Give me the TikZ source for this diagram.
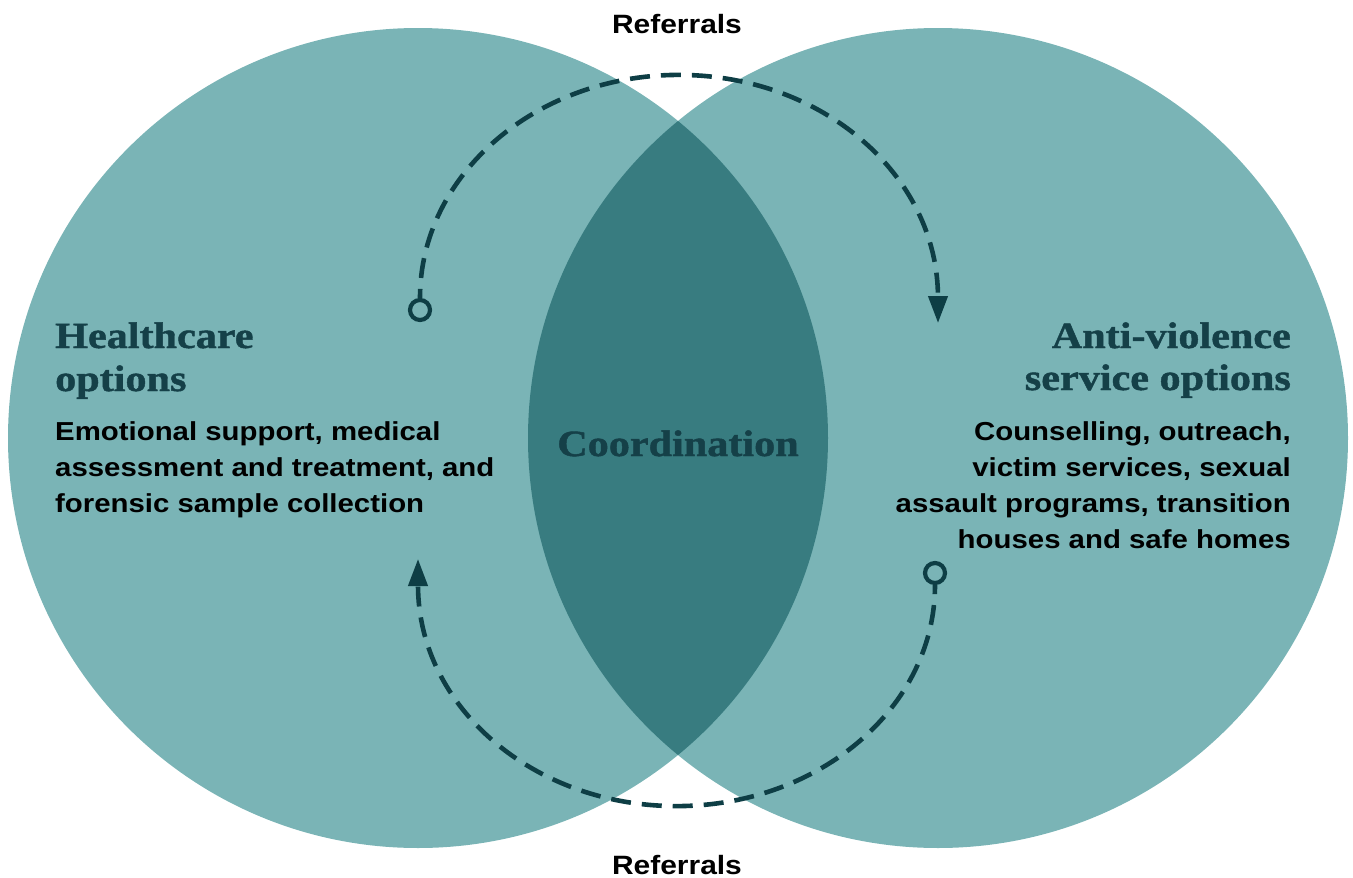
\documentclass[tikz,border=0pt]{standalone}
\usepackage{fontspec}
\setmainfont{Liberation Sans}
\newfontfamily\bodyf[FakeStretch=1.13]{Liberation Sans}
\newfontfamily\headf[FakeStretch=1.14,FakeBold=1.2]{Liberation Serif}
\usetikzlibrary{arrows.meta}
\definecolor{lightteal}{HTML}{7AB4B6}
\definecolor{darkteal}{HTML}{387C80}
\definecolor{ink}{HTML}{0E3E45}
\definecolor{headc}{HTML}{154048}
\tikzset{
  bodytxt/.style={inner sep=0pt, font=\bodyf\bfseries\fontsize{26}{36}\selectfont, text=black},
  headtxt/.style={inner sep=0pt, font=\headf\bfseries\fontsize{37}{44}\selectfont, text=headc},
  reftxt/.style={inner sep=0pt, font=\bodyf\bfseries\fontsize{26.5}{30}\selectfont, text=black},
  flow/.style={draw=ink, line width=4.6pt, dash pattern=on 20pt off 11pt, dash phase=11pt},
  tipline/.style={draw=ink, line width=4.2pt, -{Triangle[length=27pt,width=19pt]}},
  marker/.style={circle, draw=ink, line width=4.2pt, minimum size=20pt, inner sep=0pt, fill=lightteal}
}
\begin{document}
\begin{tikzpicture}[x=1pt,y=1pt]
\useasboundingbox (0,0) rectangle (1353,-878);
% circles
\fill[lightteal] (418,-438) circle (410);
\fill[lightteal] (938,-438) circle (410);
\begin{scope}
  \clip (418,-438) circle (410);
  \fill[darkteal] (938,-438) circle (410);
\end{scope}
% upper referral arc
\node[marker] (m1) at (420,-310) {};
\coordinate (u1) at (938,-300);
\coordinate (t1) at (938,-323);
\draw[flow] (m1.north) arc[start angle=180, end angle=0, x radius=259, y radius=223];
\draw[tipline] (u1) -- (t1);
% lower referral arc
\node[marker] (m2) at (935,-573) {};
\coordinate (u2) at (418,-586);
\coordinate (t2) at (418,-559);
\draw[flow] (m2.south) arc[start angle=0, end angle=-180, x radius=258.5, y radius=221];
\draw[tipline] (u2) -- (t2);
% texts
\node[reftxt, anchor=base] (rt) at (677,-33) {Referrals};
\node[reftxt, anchor=base] (rb) at (677,-874) {Referrals};
\node[headtxt, anchor=base west] (h1) at (55,-348) {Healthcare};
\node[headtxt, anchor=base west] (h2) at (55,-391) {options};
\node[bodytxt, anchor=base west] (b1) at (55,-440) {Emotional support, medical};
\node[bodytxt, anchor=base west] (b2) at (55,-476) {assessment and treatment, and};
\node[bodytxt, anchor=base west] (b3) at (55,-512) {forensic sample collection};
\node[headtxt, anchor=base east] (a1) at (1291,-348) {Anti-violence};
\node[headtxt, anchor=base east] (a2) at (1291,-390) {service options};
\node[bodytxt, anchor=base east] (c1) at (1291,-440) {Counselling, outreach,};
\node[bodytxt, anchor=base east] (c2) at (1291,-476) {victim services, sexual};
\node[bodytxt, anchor=base east] (c3) at (1291,-512) {assault programs, transition};
\node[bodytxt, anchor=base east] (c4) at (1291,-548) {houses and safe homes};
\node[headtxt, anchor=base] (co) at (678,-456) {Coordination};
\end{tikzpicture}
\end{document}
